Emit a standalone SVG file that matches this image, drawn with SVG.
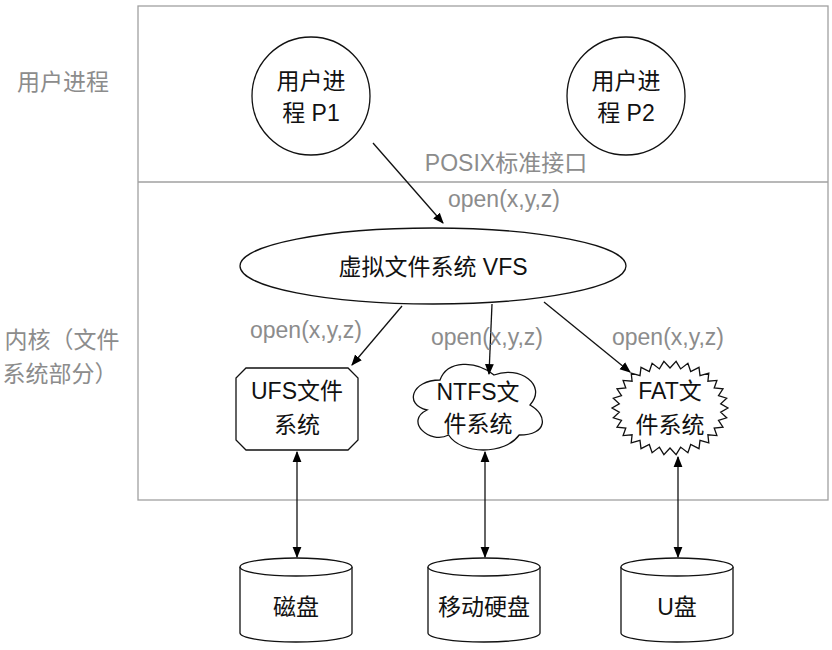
<svg xmlns="http://www.w3.org/2000/svg" width="832" height="650" viewBox="0 0 832 650">
<defs>
<marker id="ah" viewBox="0 0 10 10" refX="9" refY="5" markerWidth="11" markerHeight="11" markerUnits="userSpaceOnUse" orient="auto-start-reverse"><path d="M0,1 L10,5 L0,9 Z" fill="#000"/></marker>
<style>
text{font-family:"Liberation Sans","Noto Sans CJK SC",sans-serif;font-size:23px;text-anchor:middle;dominant-baseline:central;fill:#111}
.g{fill:#8c8c8c}
.shape{fill:#fff;stroke:#111;stroke-width:1.3}
.frame{fill:none;stroke:#a0a0a0;stroke-width:1.3}
.conn{stroke:#111;stroke-width:1.3;fill:none}
</style>
</defs>
<rect width="832" height="650" fill="#fff"/>
<g id="frame">
<rect class="frame" x="138" y="6" width="690" height="494"/>
<line class="frame" x1="138" y1="182" x2="828" y2="182"/>
<text class="g" x="63" y="82">用户进程</text>
<text class="g" x="62" y="340">内核（文件</text>
<text class="g" x="60" y="374">系统部分）</text>
</g>
<g id="p1"><circle class="shape" cx="311" cy="96" r="59"/><text x="311" y="81">用户进</text><text x="311" y="113">程 P1</text></g>
<g id="p2"><circle class="shape" cx="626" cy="96" r="59"/><text x="626" y="81">用户进</text><text x="626" y="113">程 P2</text></g>
<g id="vfs"><ellipse class="shape" cx="433" cy="266" rx="193" ry="38"/><text x="433" y="267">虚拟文件系统 VFS</text></g>
<g id="ufs"><path class="shape" d="M246,368 L348,368 L358,378 L358,440 L348,450 L246,450 L236,440 L236,378 Z"/><text x="297" y="391">UFS文件</text><text x="297" y="425">系统</text></g>
<g id="ntfs"><path class="shape" d="M440,380 C411.2,380 404,405 427,410 C404,421 429.9,445 448.6,435 C461.6,455 504.8,455 519.2,435 C548,435 548,415 530,405 C548,385 519.2,365 494,375 C476,360 447.2,360 440,380 Z"/><text x="478" y="392">NTFS文</text><text x="478" y="424">件系统</text></g>
<g id="fat"><polygon class="shape" points="728,408 720.7,412.2 726.7,417.8 718.5,420.4 723,427.1 714.2,428 716.9,435.6 707.9,434.8 708.8,442.9 700,440.4 699,448.7 690.7,444.5 687.9,452.7 680.6,447.1 676.1,454.7 670,448 663.9,454.7 659.4,447.1 652.1,452.7 649.3,444.5 641,448.7 640,440.4 631.2,442.9 632.1,434.8 623.1,435.6 625.8,428 617,427.1 621.5,420.4 613.3,417.8 619.3,412.2 612,408 619.3,403.8 613.3,398.2 621.5,395.6 617,388.9 625.8,388 623.1,380.4 632.1,381.2 631.2,373.1 640,375.6 641,367.3 649.3,371.5 652.1,363.3 659.4,368.9 663.9,361.3 670,368 676.1,361.3 680.6,368.9 687.9,363.3 690.7,371.5 699,367.3 700,375.6 708.8,373.1 707.9,381.2 716.9,380.4 714.2,388 723,388.9 718.5,395.6 726.7,398.2 720.7,403.8"/><text x="670" y="391">FAT文</text><text x="670" y="425">件系统</text></g>
<g id="disk1"><path class="shape" d="M240,567 A56,9 0 0 1 352,567 L352,633 A56,9 0 0 1 240,633 Z"/><path class="shape" fill="none" d="M240,567 A56,9 0 0 0 352,567"/><text x="296" y="607">磁盘</text></g>
<g id="disk2"><path class="shape" d="M428,567 A56,9 0 0 1 540,567 L540,633 A56,9 0 0 1 428,633 Z"/><path class="shape" fill="none" d="M428,567 A56,9 0 0 0 540,567"/><text x="484" y="607">移动硬盘</text></g>
<g id="disk3"><path class="shape" d="M621,567 A56,9 0 0 1 733,567 L733,633 A56,9 0 0 1 621,633 Z"/><path class="shape" fill="none" d="M621,567 A56,9 0 0 0 733,567"/><text x="677" y="607">U盘</text></g>
<g id="connectors">
<line class="conn" x1="373" y1="143" x2="443" y2="223" marker-end="url(#ah)"/>
<line class="conn" x1="402" y1="306" x2="352" y2="365" marker-end="url(#ah)"/>
<line class="conn" x1="492" y1="304" x2="489" y2="374" marker-end="url(#ah)"/>
<line class="conn" x1="544" y1="302" x2="630" y2="372" marker-end="url(#ah)"/>
<line class="conn" x1="297" y1="452" x2="297" y2="557" marker-start="url(#ah)" marker-end="url(#ah)"/>
<line class="conn" x1="485" y1="452" x2="485" y2="557" marker-start="url(#ah)" marker-end="url(#ah)"/>
<line class="conn" x1="678" y1="457" x2="678" y2="557" marker-start="url(#ah)" marker-end="url(#ah)"/>
<text class="g" x="506" y="163">POSIX标准接口</text>
<text class="g" x="504" y="199">open(x,y,z)</text>
<text class="g" x="306" y="330">open(x,y,z)</text>
<text class="g" x="487" y="337">open(x,y,z)</text>
<text class="g" x="668" y="337">open(x,y,z)</text>
</g>
</svg>
